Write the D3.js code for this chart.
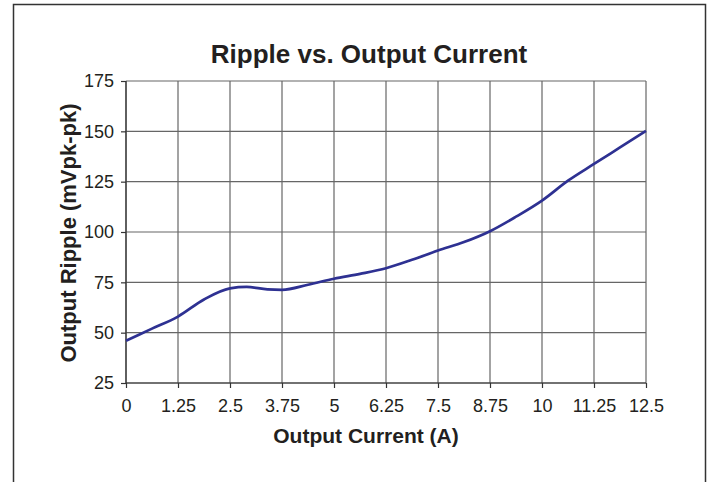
<!DOCTYPE html>
<html>
<head>
<meta charset="utf-8">
<script src="https://cdn.jsdelivr.net/npm/d3@7"></script>
<style>
  body { margin: 0; background: #fff; }
  svg { display: block; font-family: Arial, "Liberation Sans", Helvetica, sans-serif; }
  .grid line { stroke: #666; stroke-width: 1.2; }
  .axis path, .axis line { stroke: #333; stroke-width: 1.2; }
  .axis text { fill: #231f20; font-size: 18px; }
  .ripple { fill: none; stroke: #2e3192; stroke-width: 2.7; }
</style>
</head>
<body>
<div id="chart"></div>
<script>
var currents = [0, 0.625, 1.25, 1.875, 2.5, 2.9, 3.4, 3.75, 4.375, 5, 5.625, 6.25,
                6.875, 7.5, 8.125, 8.75, 9.375, 10, 10.625, 11.25, 11.875, 12.5];
var ripple   = [46, 52, 58, 66.5, 72, 72.7, 71.5, 71.3, 73.8, 76.8, 79.2, 82,
                86.2, 90.8, 95, 100.4, 107.6, 115.6, 125.5, 133.8, 142, 150.2];
var xTicks = [0, 1.25, 2.5, 3.75, 5, 6.25, 7.5, 8.75, 10, 11.25, 12.5];
var yTicks = [25, 50, 75, 100, 125, 150, 175];

var W = 716, H = 482;
var margin = { top: 81, right: 70, bottom: 99, left: 126 },
    width = 646 - margin.left,
    height = 383 - margin.top;

var svg = d3.select("#chart").append("svg")
    .attr("width", W)
    .attr("height", H);

// outer frame
svg.append("rect")
    .attr("x", 13.5).attr("y", 4.5)
    .attr("width", 692).attr("height", 490)
    .attr("fill", "none")
    .attr("stroke", "#333")
    .attr("stroke-width", 1.5);

var g = svg.append("g")
    .attr("transform", "translate(" + margin.left + "," + margin.top + ")");

var x = d3.scaleLinear().domain([0, 12.5]).range([0, width]);
var y = d3.scaleLinear().domain([25, 175]).range([height, 0]);

// gridlines
g.append("g").attr("class", "grid")
    .selectAll("line").data(xTicks).enter().append("line")
    .attr("x1", function (d) { return x(d); })
    .attr("x2", function (d) { return x(d); })
    .attr("y1", 0).attr("y2", height);

g.append("g").attr("class", "grid")
    .selectAll("line").data(yTicks).enter().append("line")
    .attr("x1", 0).attr("x2", width)
    .attr("y1", function (d) { return y(d); })
    .attr("y2", function (d) { return y(d); });

// axes
g.append("g")
    .attr("class", "axis axis--x")
    .attr("transform", "translate(0," + height + ")")
    .call(d3.axisBottom(x).tickValues(xTicks).tickSize(5).tickPadding(11)
        .tickFormat(function (d) { return d; }));

g.append("g")
    .attr("class", "axis axis--y")
    .call(d3.axisLeft(y).tickValues(yTicks).tickSize(5).tickPadding(7)
        .tickFormat(function (d) { return d; }));

g.selectAll(".axis .domain").remove();
g.append("line").attr("x1", 0).attr("x2", 0).attr("y1", 0).attr("y2", height)
    .attr("stroke", "#333").attr("stroke-width", 1.2);
g.append("line").attr("x1", 0).attr("x2", width).attr("y1", height).attr("y2", height)
    .attr("stroke", "#333").attr("stroke-width", 1.2);

// line
var line = d3.line()
    .x(function (d, i) { return x(currents[i]); })
    .y(function (d) { return y(d); })
    .curve(d3.curveMonotoneX);

g.append("path")
    .attr("class", "ripple")
    .attr("d", line(ripple));

// titles
svg.append("text")
    .attr("x", 369).attr("y", 63)
    .attr("text-anchor", "middle")
    .attr("font-size", "26px").attr("font-weight", "bold")
    .attr("fill", "#231f20")
    .text("Ripple vs. Output Current");

svg.append("text")
    .attr("x", 366).attr("y", 443)
    .attr("text-anchor", "middle")
    .attr("font-size", "21px").attr("font-weight", "bold")
    .attr("fill", "#231f20")
    .text("Output Current (A)");

svg.append("text")
    .attr("transform", "translate(76,233) rotate(-90)")
    .attr("text-anchor", "middle")
    .attr("font-size", "22px").attr("font-weight", "bold")
    .attr("fill", "#231f20")
    .text("Output Ripple (mVpk-pk)");
</script>
</body>
</html>
